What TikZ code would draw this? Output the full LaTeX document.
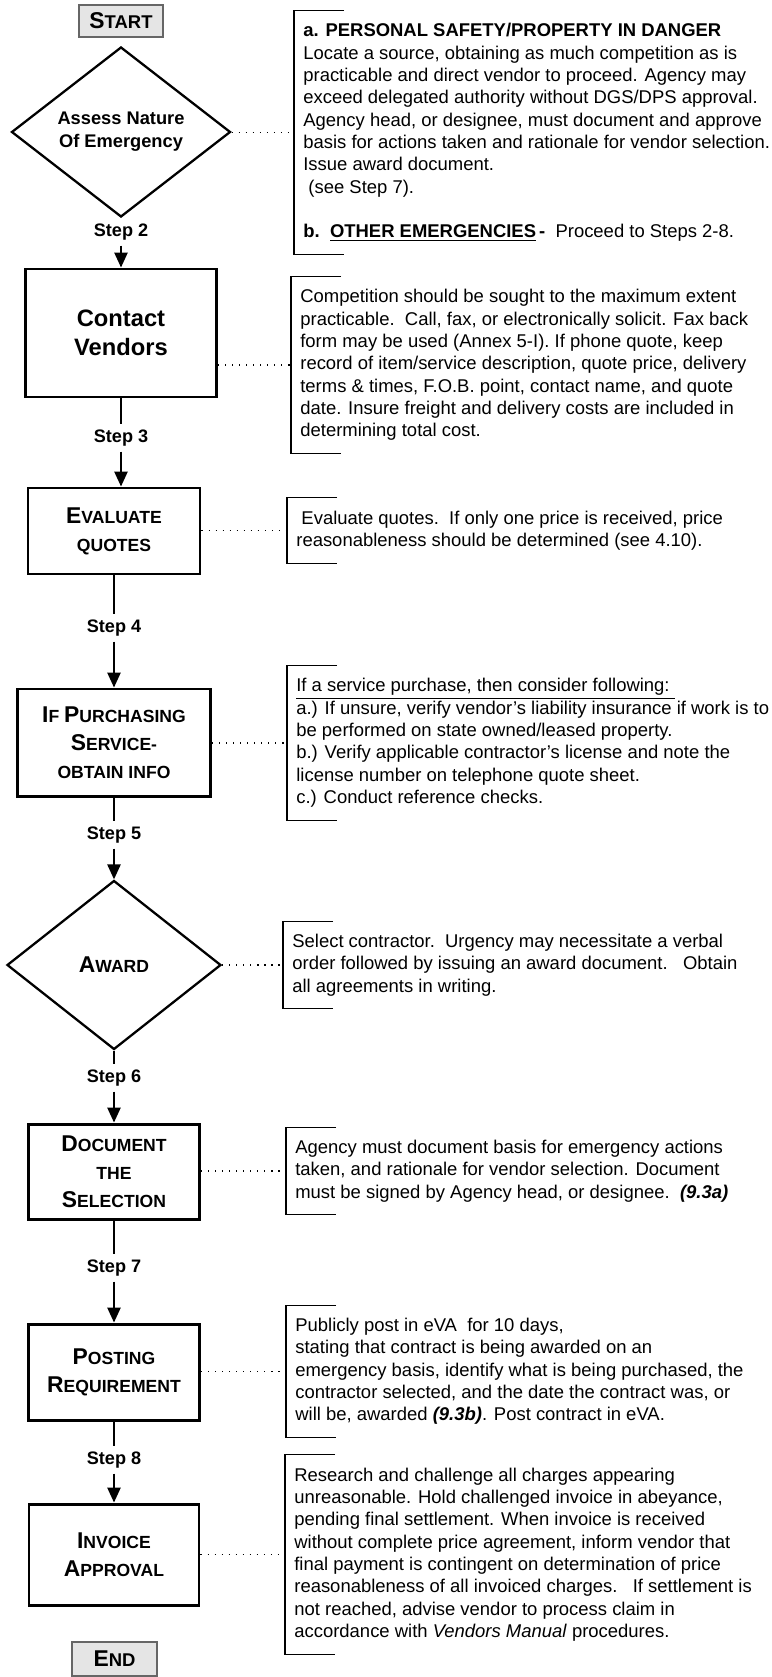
\documentclass[tikz,border=0pt]{standalone}
\usepackage{fontspec}
\setmainfont{Liberation Sans}
\usepackage[x11names, rgb]{xcolor}
\usepackage{tikz}
\usetikzlibrary{shapes.geometric,arrows.meta}

\newcommand{\scap}[2]{{\fontsize{13}{16}\selectfont #1}{\fontsize{10}{16}\selectfont #2}}
\newcommand{\tcap}[2]{{\fontsize{13}{14}\selectfont #1}{\fontsize{10.5}{14}\selectfont #2}}

\begin{document}
\begin{tikzpicture}[x=0.2mm, y=0.2mm]
    \tikzstyle{every node}+=[inner sep=0pt]
    \tikzstyle{procbox}=[draw, rectangle, line width=1.7pt, align=center, font=\fontsize{10}{16}\selectfont\bfseries]
    \tikzstyle{decide}=[draw, diamond, line width=1.3pt, align=center]
    \tikzstyle{termbox}=[draw=black!60, fill=black!10, line width=0.8pt, font=\bfseries]
    \tikzstyle{steplabel}=[font=\fontsize{10.3}{12}\selectfont\bfseries, inner sep=1mm]
    \tikzstyle{memo}=[anchor=west, align=left, inner xsep=1.8mm, font=\fontsize{10.5}{12.7}\selectfont]
    \tikzstyle{flow}=[line width=1.1pt, -{Triangle[length=8.5pt,width=7.5pt]}]
    \tikzstyle{link}=[line width=1.1pt]
    \tikzstyle{dots}=[line width=0.7pt, dash pattern=on 0.7pt off 3.3pt]
    \tikzstyle{bracketline}=[line width=0.75pt]
    \useasboundingbox (0,0) rectangle (772,-1677);
    % left column
    \node [termbox, minimum width=16.8mm, minimum height=6.4mm] (start) at (121,-21) {\tcap{S}{TART}};
    \node [decide, minimum width=43.8mm, minimum height=34mm, font=\fontsize{10.4}{13}\selectfont\bfseries] (assess) at (121,-132) {Assess Nature\\Of Emergency};
    \node [steplabel] (step2) at (121,-232) {Step 2};
    \node [procbox, minimum width=38.2mm, minimum height=25.6mm, font=\fontsize{13.5}{16.3}\selectfont\bfseries] (vendors) at (121,-333) {Contact\\Vendors};
    \node [steplabel] (step3) at (121,-438) {Step 3};
    \node [procbox, minimum width=34.4mm, minimum height=17.2mm] (evaluate) at (114,-531) {\scap{E}{VALUATE}\\\scap{}{QUOTES}};
    \node [steplabel] (step4) at (114,-628) {Step 4};
    \node [procbox, minimum width=38.6mm, minimum height=21.4mm] (service) at (114,-742.5) {\scap{I}{F} \scap{P}{URCHASING}\\\scap{S}{ERVICE-}\\\scap{}{OBTAIN INFO}};
    \node [steplabel] (step5) at (114,-835) {Step 5};
    \node [decide, minimum width=42.8mm, minimum height=33.8mm, font=\bfseries] (award) at (114,-965) {\scap{A}{WARD}};
    \node [steplabel] (step6) at (114,-1078) {Step 6};
    \node [procbox, minimum width=34.2mm, minimum height=19mm] (selection) at (114,-1171.5) {\scap{D}{OCUMENT}\\\scap{}{THE}\\\scap{S}{ELECTION}};
    \node [steplabel] (step7) at (114,-1268) {Step 7};
    \node [procbox, minimum width=34.2mm, minimum height=19.2mm] (posting) at (114,-1372) {\scap{P}{OSTING}\\\scap{R}{EQUIREMENT}};
    \node [steplabel] (step8) at (114,-1460) {Step 8};
    \node [procbox, minimum width=34mm, minimum height=20.2mm] (invoice) at (114,-1554.5) {\scap{I}{NVOICE}\\\scap{A}{PPROVAL}};
    \node [termbox, minimum width=17mm, minimum height=6.8mm] (end) at (114.5,-1659) {\tcap{E}{ND}};
    % flow
    \draw [flow] (step2) -- (vendors);
    \draw [link] (vendors) -- (step3);
    \draw [flow] (step3) -- (step3 |- evaluate.north);
    \draw [link] (evaluate) -- (step4);
    \draw [flow] (step4) -- (service);
    \draw [link] (service) -- (step5);
    \draw [flow] (step5) -- (award);
    \draw [link] (award) -- (step6);
    \draw [flow] (step6) -- (selection);
    \draw [link] (selection) -- (step7);
    \draw [flow] (step7) -- (posting);
    \draw [link] (posting) -- (step8);
    \draw [flow] (step8) -- (invoice);
    % notes
    \node [memo, minimum height=48.6mm] (noteA) at (294,-132.5) {\textbf{a. PERSONAL SAFETY/PROPERTY IN DANGER}\\
        Locate a source, obtaining as much competition as is\\
        practicable and direct vendor to proceed. Agency may\\
        exceed delegated authority without DGS/DPS approval.\\
        Agency head, or designee, must document and approve\\
        basis for actions taken and rationale for vendor selection.\\
        Issue award document.\\
        \ (see Step 7).\\
        \mbox{}\\
        {\bfseries b.\ \ \underline{OTHER EMERGENCIES}\,-}\ \ Proceed to Steps 2-8.};
    \node [memo, minimum height=35.2mm] (noteB) at (291,-365) {Competition should be sought to the maximum extent\\
        practicable.\ \ Call, fax, or electronically solicit. Fax back\\
        form may be used (Annex 5-I). If phone quote, keep\\
        record of item/service description, quote price, delivery\\
        terms \& times, F.O.B. point, contact name, and quote\\
        date. Insure freight and delivery costs are included in\\
        determining total cost.};
    \node [memo, minimum height=13mm] (noteC) at (287,-530.5) {\ Evaluate quotes.\ \ If only one price is received, price\\
        reasonableness should be determined (see 4.10).};
    \node [memo, minimum height=30.8mm] (noteD) at (287,-743) {\underline{If a service purchase, then consider following:\ }\\
        a.) If unsure, verify vendor's liability insurance if work is to\\
        be performed on state owned/leased property.\\
        b.) Verify applicable contractor's license and note the\\
        license number on telephone quote sheet.\\
        c.) Conduct reference checks.};
    \node [memo, minimum height=17.2mm] (noteE) at (283,-965) {Select contractor.\ \ Urgency may necessitate a verbal\\
        order followed by issuing an award document.\ \ \ Obtain\\
        all agreements in writing.};
    \node [memo, minimum height=17.2mm] (noteF) at (286,-1171) {Agency must document basis for emergency actions\\
        taken, and rationale for vendor selection. Document\\
        must be signed by Agency head, or designee.\ \ \textbf{\textit{(9.3a)}}};
    \node [memo, minimum height=26.2mm] (noteG) at (286,-1371.5) {Publicly post in eVA\ \ for 10 days,\\
        stating that contract is being awarded on an\\
        emergency basis, identify what is being purchased, the\\
        contractor selected, and the date the contract was, or\\
        will be, awarded \textbf{\textit{(9.3b)}}. Post contract in eVA.};
    \node [memo, minimum height=39.8mm] (noteH) at (285,-1554.5) {Research and challenge all charges appearing\\
        unreasonable. Hold challenged invoice in abeyance,\\
        pending final settlement. When invoice is received\\
        without complete price agreement, inform vendor that\\
        final payment is contingent on determination of price\\
        reasonableness of all invoiced charges.\ \ \ If settlement is\\
        not reached, advise vendor to process claim in\\
        accordance with \textit{Vendors Manual} procedures.};
    % brackets and dotted links
    \foreach \n/\s in {noteA/assess, noteB/vendors, noteC/evaluate, noteD/service, noteE/award, noteF/selection, noteG/posting, noteH/invoice} {
        \draw [bracketline] ([xshift=10mm]\n.north west) -- (\n.north west) -- (\n.south west) -- ([xshift=10mm]\n.south west);
        \draw [dots] (\n.west -| \s.east) -- (\n.west);
    }
\end{tikzpicture}
\end{document}
